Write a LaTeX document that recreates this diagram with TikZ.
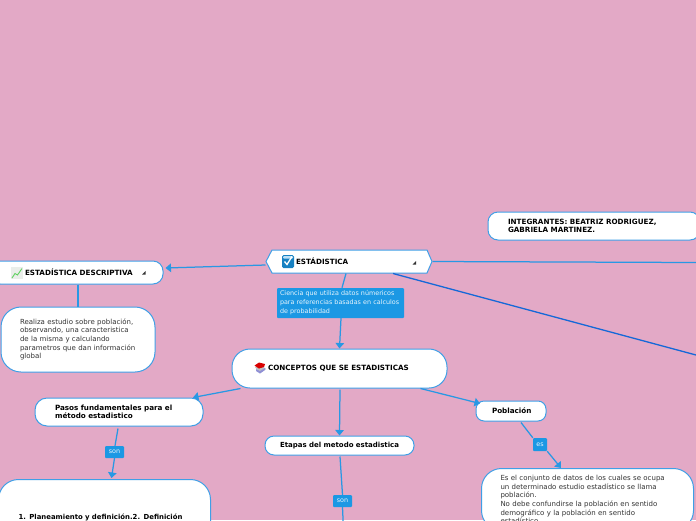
\documentclass[tikz,border=0pt]{standalone}
\usepackage{fontspec}
\setmainfont{DejaVu Sans}
\usetikzlibrary{arrows.meta}
\definecolor{bgpink}{HTML}{E3A9C6}
\definecolor{linkblue}{HTML}{2898E4}
\definecolor{edgeblue}{HTML}{3F9FE6}
\definecolor{darkblue}{HTML}{1568D8}
\definecolor{tagblue}{HTML}{1B98E4}
\definecolor{bodytxt}{HTML}{333333}
\tikzset{
  x=1pt,y=-1pt,
  mapbox/.style={draw=edgeblue,fill=white,line width=1pt,inner ysep=3pt,align=left,font=\fontsize{7}{8.7}\selectfont,text=bodytxt},
  boldbox/.style={mapbox,font=\fontsize{7.2}{8.4}\selectfont\bfseries,text=black},
  tagbox/.style={fill=tagblue,rounded corners=1pt,text=white!90!tagblue,font=\fontsize{6.4}{9}\selectfont,inner sep=0pt,align=left},
  conn/.style={draw=linkblue,line width=1.25pt},
  arr/.style={conn,-{Triangle[length=5.5pt,width=8.5pt]}},
  dark/.style={draw=darkblue,line width=1.3pt},
  fold/.style={fill=black!80},
}
\begin{document}
\begin{tikzpicture}
\useasboundingbox (0,0) rectangle (696,520);
\clip (0,0) rectangle (696,520);
\fill[bgpink] (0,0) rectangle (696,520);

% hexagon outline of the root topic
\filldraw[draw=edgeblue,fill=white,line width=1pt] (266,261.5) -- (272,250) -- (427,250) -- (432,261.5) -- (427,273) -- (272,273) -- cycle;

% nodes
\node[boldbox,draw=none,fill=none,minimum width=166pt,minimum height=23pt,inner xsep=30pt,text width=106pt] (est) at (349,261.5) {ESTÁDISTICA};
\node[boldbox,rounded corners=10pt,minimum height=23pt,text width=133pt,inner xsep=20pt] (desc) at (76.5,272.5) {\hspace{15pt}ESTADÍSTICA DESCRIPTIVA};
\node[mapbox,rounded corners=20pt,minimum height=65pt,text width=116pt,inner xsep=19pt] (real) at (78,339.5) {Realiza estudio sobre población,\\observando, una caracteristica\\de la misma y calculando\\parametros que dan información\\global};
\node[tagbox,minimum width=127pt,minimum height=30pt,text width=121pt,inner xsep=3pt] (def) at (340.5,303) {Ciencia que utiliza datos númericos\\para referencias basadas en calculos\\de probabilidad};
\node[boldbox,rounded corners=18pt,minimum height=39pt,text width=179pt,inner xsep=18pt] (con) at (339.5,368.5) {\hspace{18pt}CONCEPTOS QUE SE ESTADISTICAS};
\node[boldbox,rounded corners=12pt,minimum height=28pt,text width=128pt,inner xsep=20pt] (pas) at (119,412) {Pasos fundamentales para el\\método estadistico};
\node[boldbox,font=\fontsize{7}{8.4}\selectfont\bfseries,rounded corners=9pt,minimum height=19pt,text width=119pt,inner xsep=15pt] (eta) at (339.5,445.5) {\mbox{Etapas del metodo estadistica}};
\node[boldbox,rounded corners=8pt,minimum height=20pt,text width=38pt,inner xsep=16pt] (pob) at (511,411) {Población};
\node[boldbox,rounded corners=10pt,minimum height=28pt,text width=172pt,inner xsep=20pt] (int) at (594,226) {INTEGRANTES: BEATRIZ RODRIGUEZ,\\GABRIELA MARTINEZ.};
\node[tagbox,minimum width=19pt,minimum height=12pt,align=center] (son1) at (114.5,452) {son};
\node[tagbox,minimum width=19pt,minimum height=12pt,align=center] (son2) at (342.5,501) {son};
\node[tagbox,minimum width=14pt,minimum height=13pt,align=center] (es) at (540,444.5) {es};
\node[boldbox,font=\fontsize{6.9}{8.4}\selectfont\bfseries,rounded corners=20pt,minimum height=76pt,text width=172pt,inner xsep=20pt,anchor=north west] (plan) at (-2,479) {1. Planeamiento y definición.2. Definición};
\node[mapbox,rounded corners=20pt,minimum height=62pt,text width=174pt,inner xsep=19pt,inner ysep=5pt,anchor=north west] (ejem) at (481,468) {Es el conjunto de datos de los cuales se ocupa\\un determinado estudio estadístico se llama\\población.\\No debe confundirse la población en sentido\\demográfico y la población en sentido\\estadístico.};

\coordinate (rightA) at (696,262.5);
\coordinate (rightB) at (696,355);
\coordinate (downA) at (343.5,530);

% connectors
\draw[arr] ([yshift=-3.5pt]est.west) -- ([xshift=2pt,yshift=4.5pt]desc.east);
\draw[conn] (desc.south -| real.north) -- (real.north);
\draw[conn] ([xshift=-3pt]est.south) -- ([xshift=1.5pt]def.north);
\draw[arr] ([xshift=0.5pt]def.south) -- (con.north);
\draw[conn] (est.east) -- (rightA);
\draw[dark] ([xshift=44pt]est.south) -- (rightB);
\draw[arr] ([xshift=-99pt]con.south) -- ([xshift=74pt]pas.north);
\draw[arr] ([yshift=-1pt,xshift=0.5pt]con.south) -- (eta.north);
\draw[arr] ([xshift=81pt]con.south) -- ([xshift=-31pt,yshift=-3pt]pob.north);
\draw[conn] ([yshift=-2pt,xshift=-1pt]pas.south) -- ([xshift=0.5pt]son1.north);
\draw[arr] (son1.south) -- ([xshift=7pt,yshift=1pt]plan.north);
\draw[conn] ([yshift=-1pt,xshift=0.5pt]eta.south) -- (son2.north);
\draw[conn] (son2.south) -- (downA);
\draw[conn] ([xshift=10pt,yshift=-1pt]pob.south) -- (es.north west);
\draw[arr] (es.south east) -- ([xshift=-26.5pt]ejem.north);

% fold markers
\fill[fold] (416,261) -- (416,264.5) -- (412.5,264.5) -- cycle;
\fill[fold] (145.5,271) -- (145.5,274.5) -- (142,274.5) -- cycle;

% check icon
\fill[tagblue!85!black,rounded corners=1.5pt] (282,255) rectangle (294,268);
\fill[white!70!tagblue,rounded corners=1pt] (283,256) rectangle (293,258.5);
\draw[white,line width=1.3pt] (284.5,261.5) -- (287,264.5) -- (292,256.5);
% chart icon
\fill[green!12!gray!15] (11,267) rectangle (23,279);
\draw[green!55!gray!80,line width=0.9pt] (12,278) -- (15,273.5) -- (17.5,275) -- (22,268.5);
% books icon
\fill[gray!50] (255,367) -- (261,365) -- (266,369) -- (260,373) -- cycle;
\fill[blue!45!gray!60] (256,369) -- (260,371) -- (265,368) -- (265,370) -- (260,373.5) -- (256,371) -- cycle;
\fill[red!85!black] (254.5,365.5) -- (259,362.5) -- (265,364) -- (264,367) -- (259,368.5) -- cycle;
\end{tikzpicture}
\end{document}
